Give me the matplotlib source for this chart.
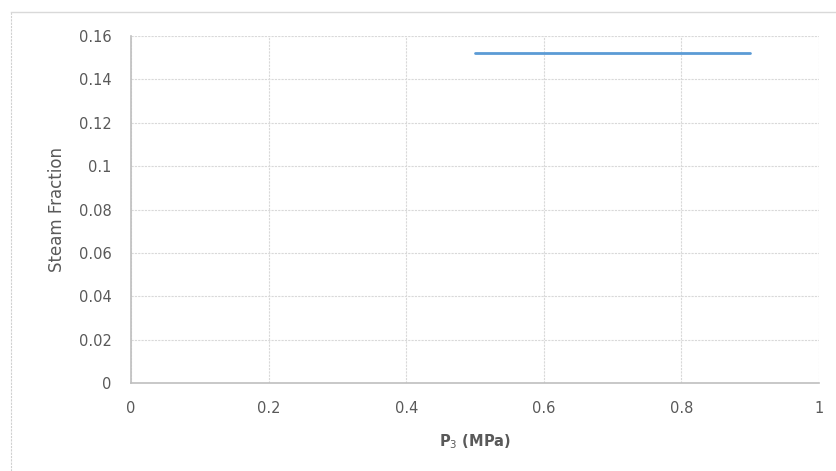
from matplotlib import pyplot as plt
from matplotlib.lines import Line2D
import numpy as np

# data
p3 = [0.5, 0.9]
steam_frac = [0.152, 0.152]

xticks = [0, 0.2, 0.4, 0.6, 0.8, 1]
yticks = [0, 0.02, 0.04, 0.06, 0.08, 0.1, 0.12, 0.14, 0.16]
xtick_labels = ['0', '0.2', '0.4', '0.6', '0.8', '1']
ytick_labels = ['0', '0.02', '0.04', '0.06', '0.08', '0.1', '0.12', '0.14', '0.16']

plt.rcParams['font.family'] = ['DejaVu Sans']

fig = plt.figure(figsize=(8.37, 4.71), dpi=100)
ax = fig.add_axes([0.1565, 0.1868, 0.822, 0.7368])

ax.plot(p3, steam_frac, color='#5b9bd5', linewidth=2, solid_capstyle='round')

ax.set_xlim(0, 1)
ax.set_ylim(0, 0.16)
ax.set_xticks(xticks)
ax.set_xticklabels(xtick_labels)
ax.set_yticks(yticks)
ax.set_yticklabels(ytick_labels)
ax.tick_params(length=0, labelsize=10.5, colors='#595959')
ax.tick_params(axis='x', pad=13)
ax.tick_params(axis='y', pad=14)

ax.grid(True, color='#d9d9d9', linestyle=(0, (2, 1)), linewidth=0.8)
ax.set_axisbelow(True)
for s in ['top', 'right']:
    ax.spines[s].set_visible(False)
for s in ['left', 'bottom']:
    ax.spines[s].set_color('#bfbfbf')
    ax.spines[s].set_linewidth(1.2)

ax.set_ylabel('Steam Fraction', fontsize=12, color='#595959', labelpad=9)
ax.set_xlabel('P$_3$ (MPa)', fontsize=10.5, color='#595959', fontweight='bold', labelpad=12)

# outer chart border
fig.add_artist(Line2D([11 / 837, 11 / 837], [0, 1 - 12 / 471], transform=fig.transFigure,
                      color='#d0d0d0', linestyle=(0, (2, 1)), linewidth=0.8))
fig.add_artist(Line2D([11 / 837, 1], [1 - 12 / 471, 1 - 12 / 471], transform=fig.transFigure,
                      color='#d9d9d9', linewidth=1))

plt.savefig('out.png', dpi=100)
